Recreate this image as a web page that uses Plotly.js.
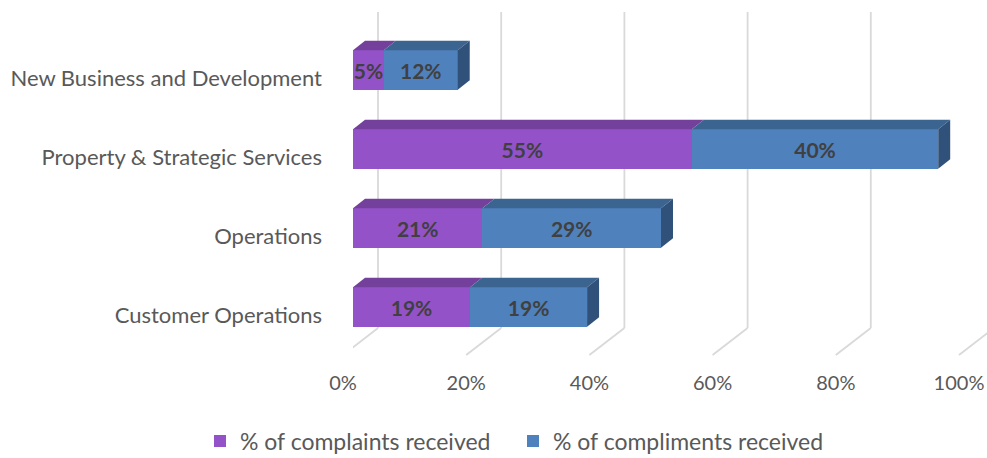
<!DOCTYPE html>
<html>
<head>
<meta charset="utf-8">
<script src="https://cdn.plot.ly/plotly-3.0.1.min.js"></script>
<style>html,body{margin:0;padding:0;background:#fff;}#chart{width:987px;height:458px;}</style>
</head>
<body>
<div id="chart"></div>
<script>
// ---- data (bottom to top) ----
const categories = ["Customer Operations", "Operations", "Property & Strategic Services", "New Business and Development"];
const complaints = [0.19, 0.21, 0.55, 0.05];
const compliments = [0.19, 0.29, 0.40, 0.12];
const seriesNames = ["% of complaints received", "% of compliments received"];
const xTicks = [0, 0.2, 0.4, 0.6, 0.8, 1.0];

// ---- styling / geometry ----
const W = 987, H = 458;
const mL = 353, mR = 0, mT = 12, mB = 103;
const plotW = W - mL - mR, plotH = H - mT - mB;
const unitPx = 616;                      // pixels per 100%
const xRange = [0, plotW / unitPx];
const catPx = 79;                        // pixels between categories
const yLow = -(48 / catPx);
const yRange = [yLow, yLow + plotH / catPx];
const barW = 0.5;
const dX = 12 / unitPx, dY = 9.5 / catPx; // 3D depth
const frontCol = ["#9452C9", "#4F81BD"];
const topCol = ["#73409C", "#3C6491"];
const sideCol = ["#73409C", "#30527A"];
const labelFont = "Lato, 'Open Sans', sans-serif";

const idx = categories.map((_, i) => i);
const series = [complaints, compliments];

const traces = series.map((vals, s) => ({
  type: "bar", orientation: "h",
  x: vals, y: idx, name: seriesNames[s], width: barW,
  marker: { color: frontCol[s], line: { width: 0 } },
  text: vals.map(v => Math.round(v * 100) + "%"),
  textposition: "inside", insidetextanchor: "middle", textangle: 0, constraintext: "none",
  textfont: { family: labelFont, size: 21, color: "#404040", weight: "bold" },
  hoverinfo: "skip"
}));

// 3D faces derived from the data
const shapes = [];
// gridlines (back wall + floor)
const wallOff = 25 / unitPx, floorOff = -10 / unitPx;
const floorBackPaper = 27 / plotH;
xTicks.forEach(t => {
  shapes.push({ type: "line", xref: "x", yref: "paper", x0: t + wallOff, x1: t + wallOff, y0: floorBackPaper, y1: 1,
    line: { color: "#D9D9D9", width: 1.8 }, layer: "below" });
  shapes.push({ type: "line", xref: "x", yref: "paper", x0: t + wallOff, x1: t + floorOff, y0: floorBackPaper, y1: 0,
    line: { color: "#D9D9D9", width: 1.8 }, layer: "below" });
});
idx.forEach(i => {
  let cum = 0;
  const yt = i + barW / 2, yb = i - barW / 2;
  series.forEach((vals, s) => {
    const x0 = cum, x1 = cum + vals[i];
    shapes.push({ type: "path", xref: "x", yref: "y", layer: "above",
      path: `M${x0},${yt} L${x1},${yt} L${x1 + dX},${yt + dY} L${x0 + dX},${yt + dY} Z`,
      fillcolor: topCol[s], line: { width: 0 } });
    cum = x1;
    if (s === series.length - 1) {
      shapes.push({ type: "path", xref: "x", yref: "y", layer: "above",
        path: `M${x1},${yb} L${x1},${yt} L${x1 + dX},${yt + dY} L${x1 + dX},${yb + dY} Z`,
        fillcolor: sideCol[s], line: { width: 0 } });
    }
  });
});

const layout = {
  width: W, height: H,
  margin: { l: mL, r: mR, t: mT, b: mB, pad: 0 },
  paper_bgcolor: "#ffffff", plot_bgcolor: "rgba(0,0,0,0)",
  barmode: "stack", bargap: 0.5,
  showlegend: true,
  legend: { orientation: "h", xref: "container", yref: "container",
    x: 200 / W, xanchor: "left", y: 1 - 441 / H, yanchor: "middle",
    font: { family: labelFont, size: 23, color: "#595959" },
    itemwidth: 30, entrywidth: 268, entrywidthmode: "pixels", traceorder: "normal" },
  xaxis: { range: xRange, showgrid: false, zeroline: false, showline: false,
    tickmode: "array", tickvals: xTicks, ticktext: xTicks.map(t => Math.round(t * 100) + "%"),
    ticks: "", ticklabelstandoff: 14, ticklabelshift: -10,
    tickfont: { family: labelFont, size: 20, color: "#595959" }, fixedrange: true },
  yaxis: { range: yRange, showgrid: false, zeroline: false, showline: false,
    tickmode: "array", tickvals: idx, ticktext: categories,
    ticks: "", ticklabelstandoff: 30, ticklabelshift: 8,
    tickfont: { family: labelFont, size: 22, color: "#595959" }, fixedrange: true },
  shapes: shapes,
  font: { family: labelFont }
};

Plotly.newPlot("chart", traces, layout, { staticPlot: true, displayModeBar: false });
</script>
</body>
</html>
